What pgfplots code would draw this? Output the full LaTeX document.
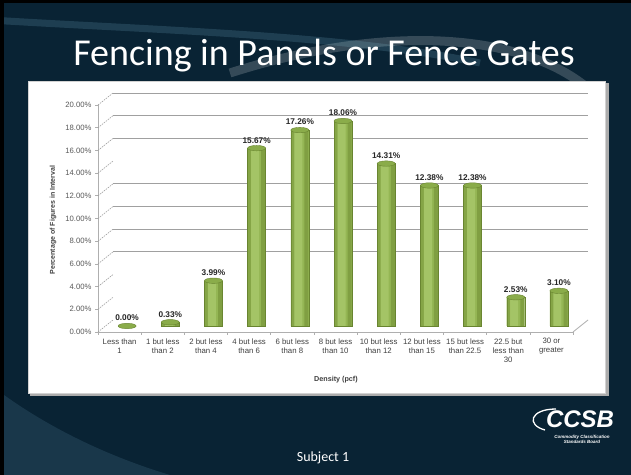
\documentclass[border=0pt]{standalone}
\usepackage{pgfplots}
\pgfplotsset{compat=1.18}
\usepackage{fontspec}
\setmainfont{Liberation Sans}
\newfontfamily\titlefont{Carlito}

\definecolor{slidebg}{RGB}{9,35,52}
\definecolor{gridgray}{RGB}{160,160,160}
\definecolor{axgray}{RGB}{175,175,175}
\definecolor{ticktext}{RGB}{89,89,89}
\definecolor{cattext}{RGB}{64,64,64}
\definecolor{baredge}{RGB}{104,132,48}
\definecolor{barbase}{RGB}{148,182,84}
\definecolor{barlight}{RGB}{172,202,110}
\definecolor{barshade}{RGB}{124,154,62}
\definecolor{bartop}{RGB}{138,172,74}

% share of figures per density interval (%)
\pgfplotstableread{
x y
0 0.00
1 0.33
2 3.99
3 15.67
4 17.26
5 18.06
6 14.31
7 12.38
8 12.38
9 2.53
10 3.10
}\densitytable

\pgfplotsset{
  chartbox/.style={scale only axis, width=475bp, height=227bp,
    xmin=-0.5, xmax=10.5, ymin=0, ymax=20, anchor=south west, clip=false},
}

\begin{document}
\begin{tikzpicture}[x=1bp,y=1bp]
\useasboundingbox (0,0) rectangle (631,475);
\fill[slidebg] (0,0) rectangle (631,475);
\fill[black] (0,0) rectangle (4,475);
\fill[black] (0,472) rectangle (631,475);

% background swooshes
\begin{scope}
\clip (4,0) rectangle (631,472);
\draw[white, opacity=0.18, line width=9bp] (230,402) .. controls (380,450) and (520,445) .. (590,385);
\draw[cyan!40!white, opacity=0.15, line width=7bp] (-10,455) .. controls (150,445) and (350,440) .. (480,412);
\fill[cyan!50!black, opacity=0.25] (4,0) -- (4,80) .. controls (60,40) and (120,15) .. (170,0) -- cycle;
\end{scope}

\node[anchor=base, text=white, font=\titlefont\fontsize{38bp}{38bp}\selectfont] at (324,409) {Fencing in Panels or Fence Gates};

% chart panel
\fill[gray!65] (30,79) rectangle (609,392);
\fill[white] (28,82) rectangle (605,394);
\draw[gray!35, line width=0.8bp] (28,82) rectangle (605,394);

% back wall grid
\begin{axis}[chartbox, at={(113bp,155bp)},
  axis line style={draw=none}, xtick=\empty,
  ytick={6,8,10,12,16,18,20}, yticklabels={}, major tick length=0pt,
  ymajorgrids, grid style={gridgray, line width=0.9bp}]
\end{axis}

% bars (cylinders built from layered bars)
\begin{axis}[chartbox, at={(105.5bp,149bp)},
  axis line style={draw=none}, xtick=\empty, ytick=\empty,
  /pgf/number format/assume math mode=true]
\addplot[ybar, bar width=18bp, bar shift=0pt, fill=barbase, draw=baredge, line width=0.4bp]
  table[x=x, y=y] {\densitytable};
\addplot[ybar, bar width=3bp, bar shift=-6.9bp, fill=barshade, draw=none, fill opacity=0.6]
  table[x=x, y=y] {\densitytable};
\addplot[ybar, bar width=8bp, bar shift=-1.5bp, fill=barlight, draw=none, fill opacity=0.7]
  table[x=x, y=y] {\densitytable};
\addplot[ybar, bar width=4bp, bar shift=6.6bp, fill=barshade, draw=none, fill opacity=0.8]
  table[x=x, y=y] {\densitytable};
\addplot[only marks, mark=*, mark size=9bp,
  mark options={yscale=0.3, fill=bartop, draw=baredge, line width=0.4bp},
  nodes near coords={\pgfmathprintnumber[fixed, fixed zerofill, precision=2]{\pgfplotspointmeta}\%},
  every node near coord/.append style={font=\bfseries\fontsize{8.3bp}{9bp}\selectfont,
    text=black!85, yshift=1.5bp}]
  table[x=x, y=y] {\densitytable};
\end{axis}

% front axis with ticks and labels
\begin{axis}[chartbox, at={(98bp,143bp)},
  axis x line*=bottom, axis y line*=left,
  x axis line style={-}, y axis line style={-},
  axis line style={axgray, line width=0.8bp},
  tick align=outside, major tick length=3bp, tick style={axgray, line width=0.6bp},
  ytick={0,2,...,20},
  yticklabel={\pgfmathprintnumber[fixed, fixed zerofill, precision=2]{\tick}\%},
  /pgf/number format/assume math mode=true,
  yticklabel style={font=\fontsize{7.7bp}{9bp}\selectfont, text=ticktext},
  xtick={-0.5,0.5,...,10.5},
  xticklabels={Less than\\1, 1 but less\\than 2, 2 but less\\than 4, 4 but less\\than 6,
    6 but less\\than 8, 8 but less\\than 10, 10 but less\\than 12, 12 but less\\than 15,
    15 but less\\than 22.5, 22.5 but\\less than\\30, 30 or\\greater, {}},
  xticklabel style={align=center, xshift=21.59bp,
    font=\fontsize{7.8bp}{9bp}\selectfont, text=cattext},
  xlabel={Density (pcf)},
  xlabel style={at={(axis description cs:0.501,-0.211)}, anchor=center,
    font=\bfseries\fontsize{7.2bp}{9bp}\selectfont, text=cattext},
  ylabel={Percentage of Figures in Interval},
  ylabel style={at={(axis description cs:-0.0947,0.493)}, anchor=center,
    font=\bfseries\fontsize{7bp}{9bp}\selectfont, text=cattext}]
\pgfplotsinvokeforeach{0,2,...,20}{
  \draw[gridgray, line width=0.6bp, dash pattern=on 1.5bp off 1bp] (axis cs:-0.5,#1) -- ++(15bp,12bp);
}
\draw[axgray, line width=0.8bp] (axis cs:10.5,0) -- ++(15bp,12bp);
\end{axis}

% logo and footer
\node[anchor=base, text=white, font=\bfseries\itshape\fontsize{24bp}{24bp}\selectfont] at (580,47) {CCSB};
\draw[white, line width=1.3bp] (556,66) .. controls (530,66) and (526,50) .. (545,45);
\node[align=center, text=white, font=\bfseries\itshape\fontsize{4.5bp}{5bp}\selectfont] at (582,36) {Commodity Classification\\Standards Board};
\node[text=white, font=\titlefont\fontsize{14bp}{14bp}\selectfont] at (323,17) {Subject 1};
\end{tikzpicture}
\end{document}
